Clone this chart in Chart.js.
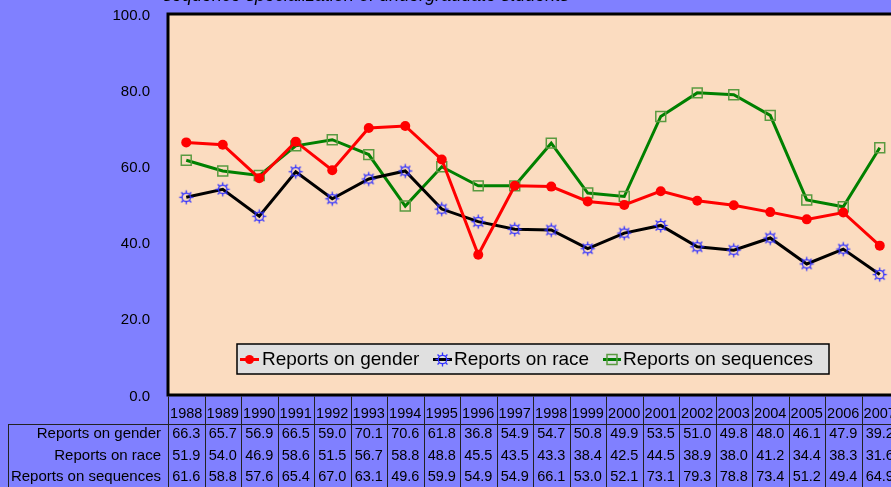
<!DOCTYPE html>
<html>
<head>
<meta charset="utf-8">
<script src="https://cdn.jsdelivr.net/npm/chart.js@4/dist/chart.umd.min.js"></script>
<style>
html,body{margin:0;padding:0;background:#8080FF;overflow:hidden;width:891px;height:487px;}
canvas{display:block;}
</style>
</head>
<body>
<canvas id="c" width="908" height="487"></canvas>
<script>
const titleText = "sequence specialization of undergraduate students";
const years = ["1988","1989","1990","1991","1992","1993","1994","1995","1996","1997","1998","1999","2000","2001","2002","2003","2004","2005","2006","2007"];
const seriesNames = ["Reports on gender","Reports on race","Reports on sequences"];
const gender = [66.3,65.7,56.9,66.5,59.0,70.1,70.6,61.8,36.8,54.9,54.7,50.8,49.9,53.5,51.0,49.8,48.0,46.1,47.9,39.2];
const race = [51.9,54.0,46.9,58.6,51.5,56.7,58.8,48.8,45.5,43.5,43.3,38.4,42.5,44.5,38.9,38.0,41.2,34.4,38.3,31.6];
const sequences = [61.6,58.8,57.6,65.4,67.0,63.1,49.6,59.9,54.9,54.9,66.1,53.0,52.1,73.1,79.3,78.8,73.4,51.2,49.4,64.9];
const yTicks = [0,20,40,60,80,100];

const FONT = "'Liberation Sans', Arial, sans-serif";

function makeSun(){
  const s = 17, c = document.createElement('canvas');
  c.width = s; c.height = s;
  const g = c.getContext('2d');
  const m = s/2;
  g.strokeStyle = '#3030ff';
  g.lineWidth = 1.3;
  g.beginPath(); g.arc(m, m, 4.2, 0, Math.PI*2); g.stroke();
  for (let i=0;i<8;i++){
    const a = i*Math.PI/4;
    g.beginPath();
    g.moveTo(m+Math.cos(a)*4.2, m+Math.sin(a)*4.2);
    g.lineTo(m+Math.cos(a)*7, m+Math.sin(a)*7);
    g.stroke();
  }
  return c;
}
const sun = makeSun();

function zeroPad(s){ s.paddingTop = 0; s.paddingBottom = 0; s.paddingLeft = 0; s.paddingRight = 0; }

const bgPlugin = {
  id:'bg',
  beforeDraw(chart){
    const ctx = chart.ctx, a = chart.chartArea;
    ctx.save();
    ctx.fillStyle = '#8080FF';
    ctx.fillRect(0,0,chart.width,chart.height);
    ctx.fillStyle = '#FBDCC0';
    ctx.fillRect(a.left,a.top,a.right-a.left,a.bottom-a.top);
    ctx.fillStyle = '#000';
    ctx.font = "italic 18px " + FONT;
    ctx.textBaseline = 'alphabetic';
    ctx.textAlign = 'left';
    ctx.fillText(titleText, 163, 1);
    ctx.restore();
  },
  afterDatasetsDraw(chart){
    const ctx = chart.ctx, a = chart.chartArea;
    ctx.save();
    ctx.strokeStyle = '#000';
    ctx.lineWidth = 3;
    ctx.beginPath();
    ctx.moveTo(a.right, a.top); ctx.lineTo(a.left, a.top);
    ctx.lineTo(a.left, a.bottom); ctx.lineTo(a.right, a.bottom);
    ctx.lineTo(a.right, a.top);
    ctx.stroke();
    ctx.restore();
  },
  afterDraw(chart){
    const ctx = chart.ctx, a = chart.chartArea, xs = chart.scales.x;
    ctx.save();
    const lx = 237, ly = 344, lw = 592, lh = 30;
    ctx.fillStyle = '#E0E0E0';
    ctx.fillRect(lx, ly, lw, lh);
    ctx.strokeStyle = '#000';
    ctx.lineWidth = 1.5;
    ctx.strokeRect(lx, ly, lw, lh);
    ctx.font = "19px " + FONT;
    ctx.textBaseline = 'middle';
    ctx.textAlign = 'left';
    const cy = ly + lh/2 + 0.5;
    const items = [
      {x0:240, x1:259, tx:262, ds:0},
      {x0:433, x1:452, tx:454, ds:1},
      {x0:603, x1:621, tx:623, ds:2}
    ];
    items.forEach(it=>{
      const d = chart.data.datasets[it.ds];
      ctx.strokeStyle = d.borderColor;
      ctx.lineWidth = 3;
      ctx.beginPath(); ctx.moveTo(it.x0, cy); ctx.lineTo(it.x1, cy); ctx.stroke();
      const mx = (it.x0+it.x1)/2;
      if (it.ds===0){
        ctx.fillStyle = '#FF0000';
        ctx.beginPath(); ctx.arc(mx, cy, 4.5, 0, Math.PI*2); ctx.fill();
      } else if (it.ds===1){
        ctx.drawImage(sun, mx - sun.width/2, cy - sun.height/2);
      } else {
        ctx.strokeStyle = '#5a9a40'; ctx.lineWidth = 1.5;
        ctx.strokeRect(mx-5, cy-5, 10, 10);
      }
      ctx.fillStyle = '#000';
      ctx.fillText(seriesNames[it.ds], it.tx, cy);
    });

    const colW = (a.right - a.left)/years.length;
    const top = a.bottom + 1.5, hLine = 424, bottom = 500;
    ctx.strokeStyle = '#222';
    ctx.lineWidth = 1;
    for (let i=0;i<=years.length;i++){
      const x = Math.round(a.left + i*colW) + 0.5;
      ctx.beginPath(); ctx.moveTo(x, top); ctx.lineTo(x, bottom); ctx.stroke();
    }
    ctx.beginPath(); ctx.moveTo(8, hLine+0.5); ctx.lineTo(a.right, hLine+0.5); ctx.stroke();
    ctx.beginPath(); ctx.moveTo(8.5, hLine); ctx.lineTo(8.5, bottom); ctx.stroke();

    ctx.fillStyle = '#000';
    ctx.font = "14.5px " + FONT;
    ctx.textAlign = 'center';
    ctx.textBaseline = 'middle';
    years.forEach((y,i)=>{
      ctx.fillText(y, xs.getPixelForValue(i), 414);
    });
    const rows = [gender, race, sequences];
    const rowY = [434, 456, 477];
    rows.forEach((r,ri)=>{
      ctx.font = "15px " + FONT;
      ctx.textAlign = 'right';
      ctx.fillText(seriesNames[ri], 161, rowY[ri]);
      ctx.font = "14.5px " + FONT;
      ctx.textAlign = 'center';
      r.forEach((v,i)=>{
        ctx.fillText(v.toFixed(1), xs.getPixelForValue(i), rowY[ri]);
      });
    });
    ctx.restore();
  }
};

new Chart(document.getElementById('c'), {
  type:'line',
  data:{
    labels: years,
    datasets:[
      {label:seriesNames[0], data:gender, borderColor:'#FF0000', backgroundColor:'#FF0000',
       borderWidth:3, pointStyle:'circle', pointRadius:5, pointBackgroundColor:'#FF0000',
       pointBorderColor:'#FF0000', pointBorderWidth:0, tension:0},
      {label:seriesNames[1], data:race, borderColor:'#000000', backgroundColor:'#000000',
       borderWidth:3, pointStyle:sun, pointRadius:7, tension:0},
      {label:seriesNames[2], data:sequences, borderColor:'#008000', backgroundColor:'rgba(0,0,0,0)',
       borderWidth:3, pointStyle:'rect', pointRadius:7, pointBorderColor:'#5a9a40',
       pointBackgroundColor:'rgba(0,0,0,0)', pointBorderWidth:1.5, tension:0}
    ]
  },
  options:{
    responsive:false,
    animation:false,
    devicePixelRatio:1,
    layout:{padding:{left:0, top:14, right:3, bottom:92}},
    plugins:{legend:{display:false}, title:{display:false}, tooltip:{enabled:false}},
    scales:{
      x:{type:'category', offset:true, display:false, afterFit:zeroPad},
      y:{
        min:0, max:100,
        afterFit(s){ s.width = 168; zeroPad(s); },
        afterBuildTicks(s){ s.ticks = yTicks.map(v=>({value:v})); },
        grid:{display:false, drawTicks:false},
        border:{display:false},
        ticks:{padding:18, labelOffset:1.5, color:'#000', font:{family:FONT, size:15},
               callback:(v)=>Number(v).toFixed(1)}
      }
    }
  },
  plugins:[bgPlugin]
});
</script>
</body>
</html>
